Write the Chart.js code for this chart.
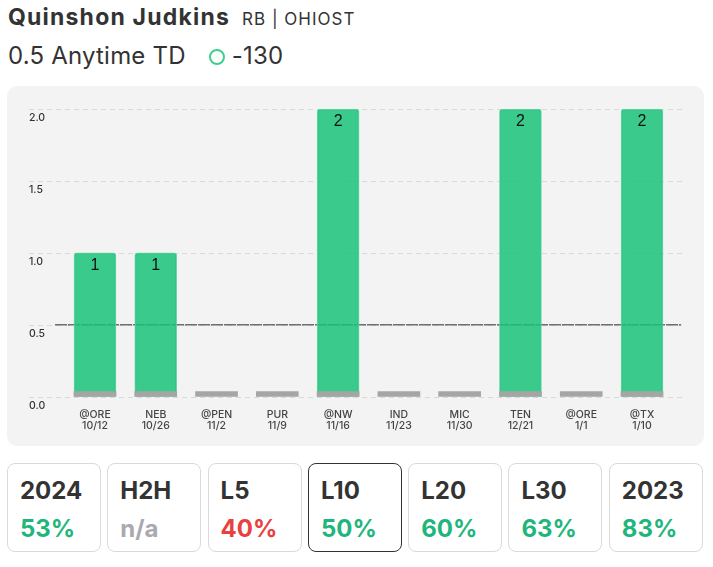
<!DOCTYPE html>
<html>
<head>
<meta charset="utf-8">
<script src="https://cdn.jsdelivr.net/npm/chart.js@4"></script>
<style>
  body { margin: 0; background: #fff; font-family: Inter, "Noto Sans", sans-serif; color: #333; width: 713px; height: 567px; position: relative; overflow: hidden; }
  .name { position: absolute; left: 8px; top: 3px; font-size: 23px; font-weight: 700; letter-spacing: 1.2px; color: #333; white-space: nowrap; }
  .name span { font-size: 17px; font-weight: 400; letter-spacing: 1px; margin-left: 12px; }
  .line { position: absolute; left: 8px; top: 41px; font-size: 24px; letter-spacing: 0.2px; color: #333; white-space: nowrap; }
  .dot { display: inline-block; width: 12px; height: 12px; border: 2px solid #3ecf8e; border-radius: 50%; margin: 0 7px 0 23px; vertical-align: -1px; }
  .panel { position: absolute; left: 7px; top: 86px; width: 697px; height: 360px; background: #f3f3f3; border-radius: 10px; }
  .cards { position: absolute; left: 7px; top: 463px; width: 696px; display: flex; gap: 6.3px; }
  .card { box-sizing: border-box; width: 94px; height: 89px; border: 1px solid #d9d9d9; border-radius: 8px; padding: 12px 0 0 12px; }
  .card.sel { border-color: #333; }
  .card .t { font-size: 24px; font-weight: 700; color: #333; line-height: 30px; }
  .card .v { font-size: 24px; font-weight: 700; line-height: 30px; margin-top: 8px; }
</style>
</head>
<body>
<div class="name">Quinshon Judkins<span>RB | OHIOST</span></div>
<div class="line">0.5 Anytime TD<span class="dot"></span>-130</div>
<div class="panel"><canvas id="chart"></canvas></div>
<div class="cards" id="cards"></div>
<script>
const opponents = ['@ORE', 'NEB', '@PEN', 'PUR', '@NW', 'IND', 'MIC', 'TEN', '@ORE', '@TX'];
const dates = ['10/12', '10/26', '11/2', '11/9', '11/16', '11/23', '11/30', '12/21', '1/1', '1/10'];
const touchdowns = [1, 1, 0, 0, 2, 0, 0, 2, 0, 2];
const floorMarks = [0.035, 0.035, 0.035, 0.035, 0.035, 0.035, 0.035, 0.035, 0.035, 0.035];
const propLine = 0.5;
const yTicks = [0, 0.5, 1, 1.5, 2];

const cardLabels = ['2024', 'H2H', 'L5', 'L10', 'L20', 'L30', '2023'];
const cardValues = ['53%', 'n/a', '40%', '50%', '60%', '63%', '83%'];
const cardColors = ['#1fb67c', '#a9a9b1', '#e8413f', '#1fb67c', '#1fb67c', '#1fb67c', '#1fb67c'];

// cards
const cards = document.getElementById('cards');
cardLabels.forEach((l, i) => {
    cards.innerHTML += `<div class="card${l === 'L10' ? ' sel' : ''}"><div class="t">${l}</div><div class="v" style="color:${cardColors[i]}">${cardValues[i]}</div></div>`;
});

// grille pointillée + ligne du prop (sous les barres, qui sont un peu transparentes)
const extras = {
    id: 'extras',
    beforeDatasetsDraw(chart) {
        const ctx = chart.ctx, y = chart.scales.y;
        ctx.save();
        ctx.strokeStyle = '#d9d9d9';
        ctx.lineWidth = 1;
        ctx.setLineDash([5, 4]);
        yTicks.forEach(v => {
            const py = Math.round(y.getPixelForValue(v)) + 0.5;
            ctx.beginPath(); ctx.moveTo(22, py); ctx.lineTo(676, py); ctx.stroke();
        });
        const lp = y.getPixelForValue(propLine);
        ctx.strokeStyle = '#6f6f6f';
        ctx.lineWidth = 1.5;
        ctx.setLineDash([12, 1]);
        ctx.beginPath(); ctx.moveTo(48, lp); ctx.lineTo(674, lp); ctx.stroke();
        ctx.restore();
    },
    afterDatasetsDraw(chart) {
        const ctx = chart.ctx;
        const meta = chart.getDatasetMeta(1);
        ctx.save();
        ctx.fillStyle = '#111';
        ctx.font = '16px "Liberation Sans", Arial, sans-serif';
        ctx.textAlign = 'center';
        ctx.textBaseline = 'middle';
        meta.data.forEach((bar, i) => {
            if (touchdowns[i] > 0) ctx.fillText(touchdowns[i], bar.x, bar.y + 12.5);
        });
        ctx.restore();
    }
};

new Chart(document.getElementById('chart'), {
    type: 'bar',
    data: {
        labels: opponents.map((o, i) => [o, dates[i]]),
        datasets: [
            { data: floorMarks, backgroundColor: '#a5a5a5', barThickness: 42, grouped: false },
            { data: touchdowns, backgroundColor: 'rgba(24,194,121,0.85)', borderColor: 'rgba(98,212,164,0.9)', borderWidth: 1,
              borderRadius: { topLeft: 3, topRight: 3 }, borderSkipped: 'bottom', barThickness: 42, grouped: false }
        ]
    },
    options: {
        responsive: true,
        maintainAspectRatio: false,
        animation: false,
        layout: { padding: { left: 22, right: 31.6, top: 23, bottom: 0 } },
        plugins: { legend: { display: false }, tooltip: { enabled: false } },
        scales: {
            x: {
                grid: { display: false }, border: { display: false },
                ticks: { autoSkip: false, maxRotation: 0, padding: 5, color: '#444',
                         font: { family: 'Inter', size: 10.5, weight: 500, lineHeight: 1.05 } },
                afterFit: s => { s.height = 49.3; }
            },
            y: {
                min: 0, max: 2,
                grid: { display: false }, border: { display: false },
                ticks: { stepSize: 0.5, crossAlign: 'far', labelOffset: 9, color: '#333',
                         font: { family: 'Inter', size: 10.5, weight: 500 },
                         callback: v => v.toFixed(1) },
                afterFit: s => { s.width = 35.6; }
            }
        }
    },
    plugins: [extras]
});
</script>
</body>
</html>
